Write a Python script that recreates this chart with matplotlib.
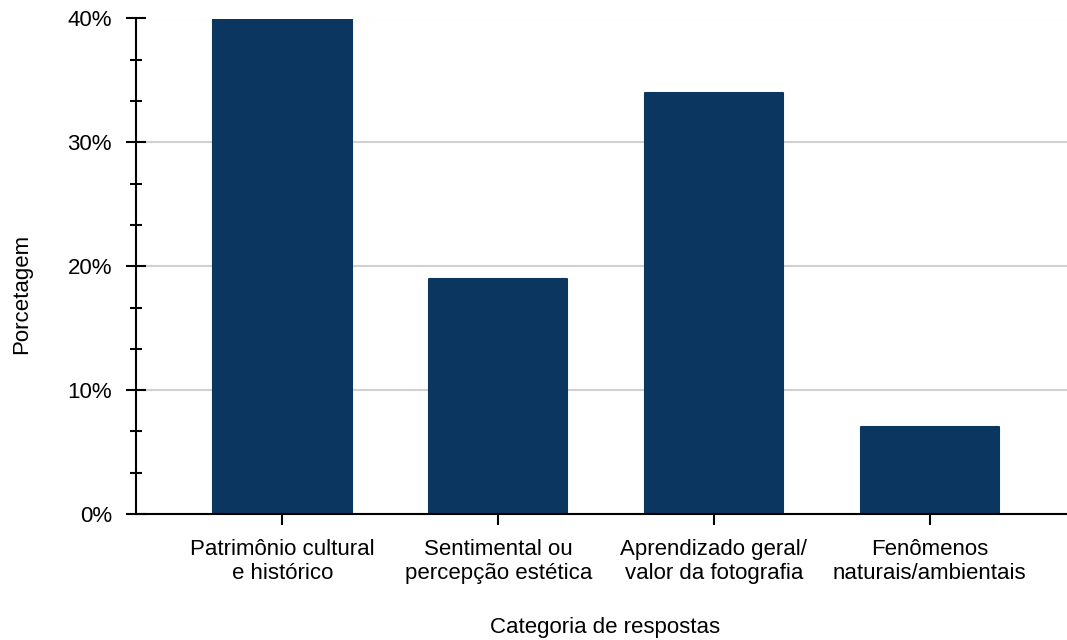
import matplotlib
matplotlib.use("Agg")
import matplotlib.pyplot as plt
from matplotlib.ticker import MultipleLocator, FuncFormatter

categories = [
    "Patrimônio cultural\ne histórico",
    "Sentimental ou\npercepção estética",
    "Aprendizado geral/\nvalor da fotografia",
    "Fenômenos\nnaturais/ambientais",
]
percentages = [40, 19, 34, 7]

bar_color = "#0a3660"
W, H = 1067, 640
plt.rcParams["font.family"] = ["Liberation Sans", "DejaVu Sans"]

fig = plt.figure(figsize=(W / 100, H / 100), dpi=100)
ax = fig.add_axes([135.5 / W, 1 - 514 / H, (W - 135.5) / W, (514 - 18.5) / H])

x = list(range(len(categories)))
ax.bar(x, percentages, width=0.64, color=bar_color, edgecolor=bar_color,
       linewidth=1.5, joinstyle="round", zorder=3)

ax.set_xlim(-0.6815, 3.637)
ax.set_ylim(0, 40)

ax.yaxis.set_major_locator(MultipleLocator(10))
ax.yaxis.set_minor_locator(MultipleLocator(10 / 3))
ax.yaxis.set_major_formatter(FuncFormatter(lambda v, p: f"{v:.0f}%"))
ax.set_xticks(x)
ax.set_xticklabels(categories, fontsize=16, linespacing=1.2)

ax.tick_params(axis="y", which="major", direction="inout", length=15, width=1.5,
               labelsize=16, pad=9.5)
ax.tick_params(axis="y", which="minor", direction="inout", length=8, width=1.5)
ax.tick_params(axis="x", which="major", direction="inout", length=16, width=1.5,
               pad=10)

ax.grid(axis="y", color="#d0d0d0", linewidth=1.5, zorder=0)
ax.set_axisbelow(True)
for side in ("top", "right"):
    ax.spines[side].set_visible(False)
for side in ("left", "bottom"):
    ax.spines[side].set_linewidth(1.5)
    ax.spines[side].set_zorder(4)

fig.text(605 / W, 1 - 628 / H, "Categoria de respostas", fontsize=16,
         ha="center", va="center")
fig.text(22 / W, 1 - 294 / H, "Porcetagem", fontsize=16, rotation=90,
         ha="center", va="center")

fig.savefig("out.png", dpi=100)
